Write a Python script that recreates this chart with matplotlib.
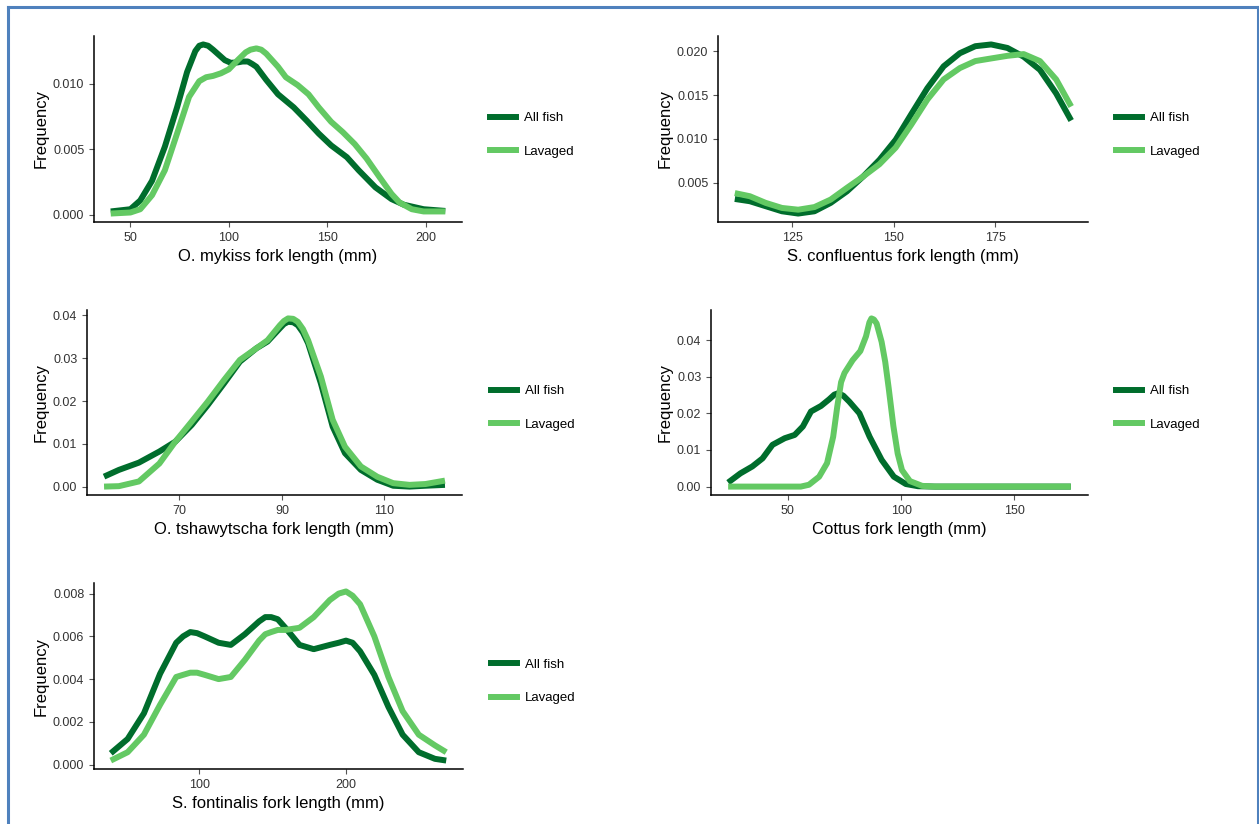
import matplotlib
matplotlib.use("Agg")
import matplotlib.pyplot as plt
from matplotlib.lines import Line2D
from matplotlib.ticker import FormatStrFormatter

plt.rcParams['font.family'] = ['Liberation Sans', 'DejaVu Sans']

# --- data ---
# O. mykiss
mykiss_all_x = [40, 50, 55, 61, 67.5, 73.7, 78.8, 83, 85, 87, 89.5, 92, 95, 98, 101, 104.5, 107,
                109.7, 112, 114, 119, 125, 133, 139.5, 145.7, 152, 160, 166, 174.5, 182.7, 189,
                199, 210]
mykiss_all_y = [0.00026, 0.00043, 0.0011, 0.0026, 0.0052, 0.0082, 0.0109, 0.0125, 0.0129, 0.0130,
                0.0129, 0.0126, 0.0122, 0.0118, 0.0116, 0.01163, 0.0117, 0.0117, 0.0115, 0.0113,
                0.0103, 0.0092, 0.0082, 0.0072, 0.0062, 0.0053, 0.0044, 0.0034, 0.0021, 0.0012,
                0.00077, 0.00043, 0.0003]
mykiss_lav_x = [40, 50, 55, 61, 67.5, 73.7, 79.8, 85, 88.5, 92, 96, 100, 104.5, 108.6, 111, 114,
                116.5, 119, 125, 129, 135, 140.5, 145.7, 152, 158, 164, 170, 176.5, 182.7, 186.8,
                193, 199, 210]
mykiss_lav_y = [0.0001, 0.00018, 0.00043, 0.0015, 0.0034, 0.0062, 0.009, 0.0102, 0.0105, 0.0106,
                0.0108, 0.0111, 0.0118, 0.0124, 0.0126, 0.0127, 0.0126, 0.0123, 0.0113, 0.0105,
                0.0099, 0.0092, 0.0082, 0.0071, 0.0063, 0.0054, 0.0043, 0.0029, 0.0016, 0.00094,
                0.00043, 0.00026, 0.00026]

# S. confluentus
conf_x = [110.9, 114.6, 118.5, 122.5, 126.5, 130.5, 134.5, 138.5, 142.5, 146.5, 150.5, 154.3,
          158.3, 162.3, 166.3, 170.1, 174, 178, 182, 186, 190, 193.7]
conf_all = [0.00313, 0.00287, 0.0023, 0.00172, 0.00146, 0.00172, 0.00268, 0.004, 0.0057, 0.0076,
            0.0099, 0.0128, 0.0158, 0.0183, 0.0198, 0.0206, 0.0208, 0.0204, 0.0194, 0.0179,
            0.0152, 0.0121]
conf_lav = [0.0038, 0.00344, 0.00268, 0.0021, 0.0019, 0.0022, 0.00306, 0.0044, 0.0057, 0.0071,
            0.009, 0.0116, 0.0145, 0.0168, 0.0181, 0.0189, 0.0192, 0.0195, 0.0197, 0.0189,
            0.0168, 0.0137]

# O. tshawytscha
tsha_x = [55.3, 58.2, 62.1, 66.1, 69.2, 72.4, 75.5, 78.7, 81.8, 85, 87.2, 89.6, 90.4, 91.2, 92.2,
          93.1, 94.1, 95.1, 97.6, 99.9, 102.3, 105.4, 108.6, 111.7, 114.9, 118, 121.8]
tsha_all = [0.00233, 0.0039, 0.0056, 0.0082, 0.0105, 0.0144, 0.019, 0.0241, 0.0292, 0.0323,
            0.0339, 0.0370, 0.0380, 0.0385, 0.0384, 0.0377, 0.0360, 0.0335, 0.0241, 0.014,
            0.0078, 0.0039, 0.0016, 0.0002, 0.0, 0.0002, 0.0004]
tsha_lav = [0.0, 0.0001, 0.0012, 0.0054, 0.0105, 0.0152, 0.0198, 0.0249, 0.0296, 0.0323,
            0.0342, 0.0377, 0.0387, 0.0393, 0.0392, 0.0385, 0.0368, 0.0342, 0.0257, 0.0156,
            0.0093, 0.0047, 0.0023, 0.0008, 0.0004, 0.0006, 0.0014]

# Cottus
cottus_all_x = [23.6, 29, 34.3, 38.8, 43.2, 48.6, 53, 56.6, 60.2, 64.6, 68.2, 70.5, 72.3, 74.5,
                77.1, 81.6, 86.1, 91.4, 96.8, 102.1, 107.5, 115, 175]
cottus_all_y = [0.0011, 0.0036, 0.0055, 0.0077, 0.0114, 0.0132, 0.0141, 0.0164, 0.0205, 0.022,
                0.0238, 0.0251, 0.0255, 0.0248, 0.0232, 0.02, 0.0136, 0.0073, 0.0027, 0.0007,
                0.0001, 0.0, 0.0]
cottus_lav_x = [23.6, 55.7, 59.3, 63.8, 67.3, 70, 71.8, 73.5, 75, 78.6, 82, 84.5, 86, 86.9, 88,
                89.2, 91.4, 93, 94.5, 96.6, 98.5, 100.4, 103.9, 109.3, 114.6, 175]
cottus_lav_y = [0.0, 0.0, 0.0005, 0.0027, 0.0064, 0.0136, 0.0218, 0.0285, 0.031, 0.0345, 0.037,
                0.041, 0.0448, 0.0459, 0.0456, 0.0445, 0.0395, 0.034, 0.027, 0.0165, 0.009,
                0.0045, 0.0015, 0.0002, 0.0, 0.0]

# S. fontinalis
font_x = [39.7, 51.2, 62.3, 73.3, 84.3, 89, 93.9, 98.5, 103.6, 113.2, 121.5, 131.1, 140.8, 145,
          149, 153.5, 158.7, 168.3, 178, 189, 195, 200, 204.5, 209.6, 219.3, 228.9, 238.6, 249.6,
          260.6, 268.3]
font_all = [0.00053, 0.0012, 0.0024, 0.00425, 0.0057, 0.0060, 0.0062, 0.00615, 0.0060, 0.0057,
            0.0056, 0.0061, 0.0067, 0.0069, 0.0069, 0.0068, 0.0064, 0.0056, 0.0054, 0.0056,
            0.0057, 0.0058, 0.0057, 0.0053, 0.0042, 0.0027, 0.0014, 0.00058, 0.00027, 0.00019]
font_lav = [0.00019, 0.00058, 0.0014, 0.0028, 0.0041, 0.0042, 0.0043, 0.0043, 0.0042, 0.0040,
            0.0041, 0.0049, 0.0058, 0.0061, 0.0062, 0.0063, 0.0063, 0.0064, 0.0069, 0.0077,
            0.0080, 0.0081, 0.0079, 0.0075, 0.006, 0.0041, 0.0025, 0.0014, 0.0009, 0.00058]

series_labels = ['All fish', 'Lavaged']
dark = '#006d2c'
light = '#63c963'

W, H = 1259, 824
fig = plt.figure(figsize=(W / 100, H / 100), dpi=100)


def panel(box, xa, ya, xb, yb, xlabel, xticks, yticks, yfmt, leg_x, leg_y):
    l, t, r, b = box
    ax = fig.add_axes([l / W, 1 - b / H, (r - l) / W, (b - t) / H])
    ax.plot(xa, ya, color=dark, lw=4.3, solid_joinstyle='round', solid_capstyle='butt')
    ax.plot(xb, yb, color=light, lw=4.3, solid_joinstyle='round', solid_capstyle='butt')
    # ggplot-style 5% expansion
    xmin, xmax = min(xa + xb), max(xa + xb)
    ymin, ymax = min(ya + yb), max(ya + yb)
    dx, dy = (xmax - xmin) * 0.05, (ymax - ymin) * 0.05
    ax.set_xlim(xmin - dx, xmax + dx)
    ax.set_ylim(ymin - dy, ymax + dy)
    ax.set_xticks(xticks)
    ax.set_yticks(yticks)
    ax.yaxis.set_major_formatter(FormatStrFormatter(yfmt))
    for s in ['top', 'right']:
        ax.spines[s].set_visible(False)
    for s in ['left', 'bottom']:
        ax.spines[s].set_linewidth(1.1)
        ax.spines[s].set_color('black')
    ax.tick_params(direction='out', length=3.6, width=0.8, color='#555555',
                   labelsize=9, labelcolor='#333333', pad=3.4)
    ax.set_xlabel(xlabel, fontsize=12, labelpad=3.5)
    ax.set_ylabel('Frequency', fontsize=12, labelpad=3)
    handles = [Line2D([], [], color=dark, lw=4.3), Line2D([], [], color=light, lw=4.3)]
    fig.legend(handles, series_labels, loc='center left',
               bbox_to_anchor=(leg_x / W, 1 - leg_y / H), bbox_transform=fig.transFigure,
               frameon=False, fontsize=9.5, handlelength=2.0, handletextpad=0.6,
               labelspacing=1.62, borderpad=0, borderaxespad=0)
    return ax


panel((94, 36, 462, 222), mykiss_all_x, mykiss_all_y, mykiss_lav_x, mykiss_lav_y,
      'O. mykiss fork length (mm)', [50, 100, 150, 200], [0, 0.005, 0.010], '%.3f', 490, 135)
panel((718, 36, 1088, 222), conf_x, conf_all, conf_x, conf_lav,
      'S. confluentus fork length (mm)', [125, 150, 175], [0.005, 0.010, 0.015, 0.020], '%.3f',
      1116, 135)
panel((87, 310, 462, 495), tsha_x, tsha_all, tsha_x, tsha_lav,
      'O. tshawytscha fork length (mm)', [70, 90, 110], [0, 0.01, 0.02, 0.03, 0.04], '%.2f',
      491, 408)
panel((711, 310, 1088, 495), cottus_all_x, cottus_all_y, cottus_lav_x, cottus_lav_y,
      'Cottus fork length (mm)', [50, 100, 150], [0, 0.01, 0.02, 0.03, 0.04], '%.2f',
      1116, 408)
panel((94, 583, 463, 769), font_x, font_all, font_x, font_lav,
      'S. fontinalis fork length (mm)', [100, 200], [0, 0.002, 0.004, 0.006, 0.008], '%.3f',
      491, 681.5)

# blue frame around the picture
border = '#4f81bd'
fig.add_artist(Line2D([8 / W, 8 / W], [0, 1 - 7 / H], color=border, lw=2.2, transform=fig.transFigure))
fig.add_artist(Line2D([8 / W, 1257.5 / W], [1 - 7 / H, 1 - 7 / H], color=border, lw=2.2,
                      transform=fig.transFigure))
fig.add_artist(Line2D([1257.5 / W, 1257.5 / W], [0, 1 - 7 / H], color=border, lw=2.2,
                      transform=fig.transFigure))

fig.savefig('out.png', dpi=100)
